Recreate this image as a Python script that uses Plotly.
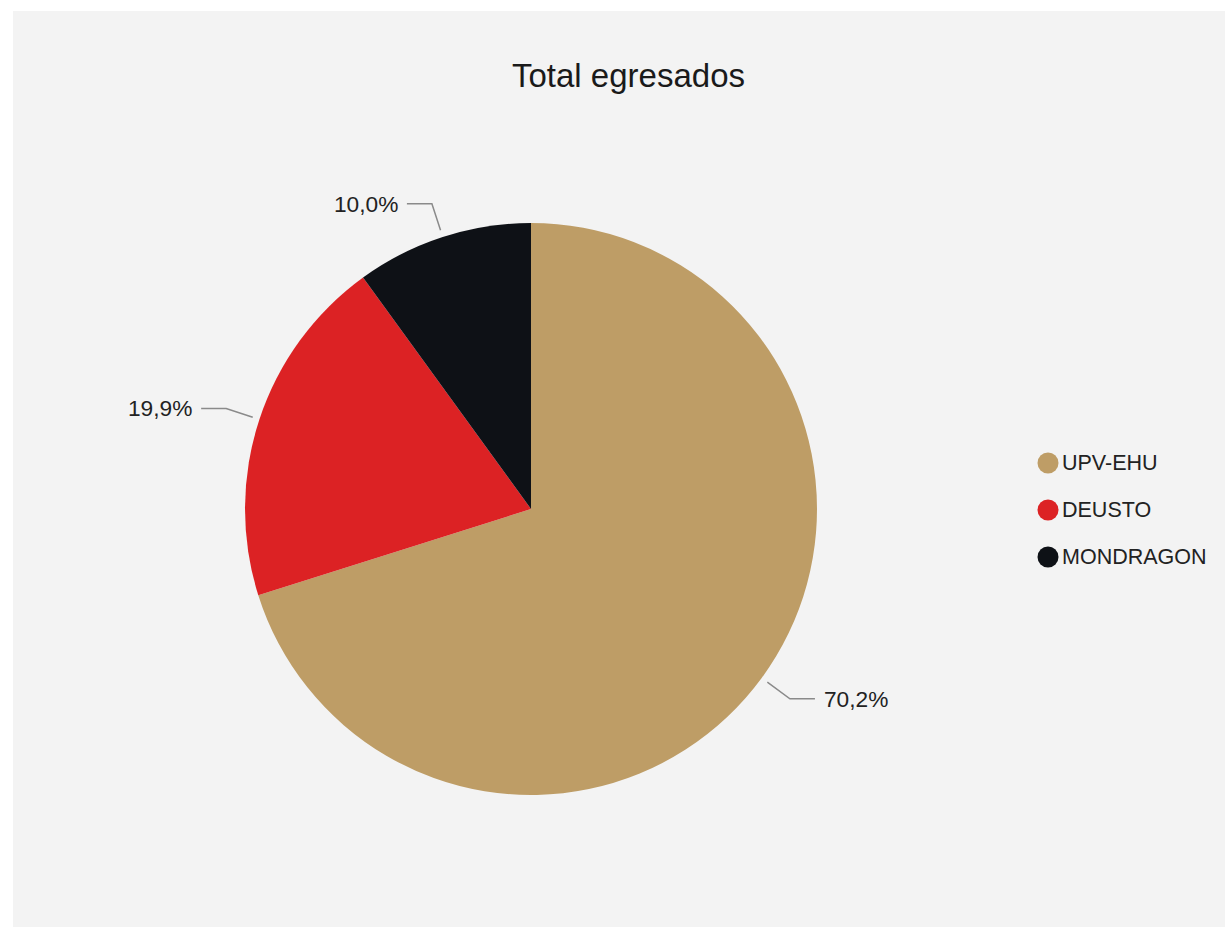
import math
import plotly.graph_objects as go

# ---- data ----
categories = ["UPV-EHU", "DEUSTO", "MONDRAGON"]
values = [70.2, 19.9, 10.0]
colors = ["#BE9D66", "#DC2224", "#0E1116"]
title_text = "Total egresados"

# ---- layout constants (pixels) ----
W, H = 1225, 927
CX, CY, R = 531, 509, 286
FONT = "Liberation Sans, Arial, sans-serif"
TEXT_COLOR = "#222222"
LINE_COLOR = "#8a8a8a"

def px(x):
    return x / W

def py(y):
    return 1 - y / H

fig = go.Figure()

fig.add_trace(go.Pie(
    labels=categories,
    values=values,
    sort=False,
    direction="clockwise",
    rotation=0,
    marker=dict(colors=colors, line=dict(width=0)),
    textinfo="none",
    hoverinfo="label+percent",
    showlegend=False,
    domain=dict(x=[px(CX - R), px(CX + R)], y=[py(CY + R), py(CY - R)]),
))

shapes = []
annotations = []

# background panel
shapes.append(dict(type="rect", xref="paper", yref="paper", layer="below",
                   x0=px(13), x1=1, y0=0, y1=py(11),
                   fillcolor="#F3F3F3", line=dict(width=0)))

# outside labels with leader lines, positioned from the data
total = sum(values)
cum = 0.0
for cat, v in zip(categories, values):
    mid = (cum + v / 2) / total * 2 * math.pi
    cum += v
    dx, dy = math.sin(mid), -math.cos(mid)
    x0, y0 = CX + (R + 7) * dx, CY + (R + 7) * dy
    x1, y1 = CX + (R + 35) * dx, CY + (R + 35) * dy
    side = 1 if dx >= 0 else -1
    x2 = x1 + side * 25
    shapes.append(dict(type="path", xref="paper", yref="paper",
                       path=f"M {px(x0)},{py(y0)} L {px(x1)},{py(y1)} L {px(x2)},{py(y1)}",
                       line=dict(color=LINE_COLOR, width=1.5)))
    label = f"{v:.1f}%".replace(".", ",")
    annotations.append(dict(xref="paper", yref="paper",
                            x=px(x2 + side * 8), y=py(y1),
                            xanchor="left" if side > 0 else "right", yanchor="middle",
                            text=label, showarrow=False, borderpad=0,
                            font=dict(family=FONT, size=22.7, color=TEXT_COLOR)))

# legend with circle markers
LX, LY0, LSTEP = 1048, 463, 47
for i, (cat, col) in enumerate(zip(categories, colors)):
    ly = LY0 + i * LSTEP
    shapes.append(dict(type="circle", xref="paper", yref="paper",
                       x0=px(LX - 10.5), x1=px(LX + 10.5),
                       y0=py(ly + 10.5), y1=py(ly - 10.5),
                       fillcolor=col, line=dict(width=0)))
    annotations.append(dict(xref="paper", yref="paper",
                            x=px(LX + 13), y=py(ly),
                            xanchor="left", yanchor="middle",
                            text=cat, showarrow=False, borderpad=0,
                            font=dict(family=FONT, size=21.5, color=TEXT_COLOR)))

# title
annotations.append(dict(xref="paper", yref="paper", x=px(628), y=py(75),
                        xanchor="center", yanchor="middle", text=title_text,
                        showarrow=False, borderpad=0,
                        font=dict(family=FONT, size=33, color="#1A1A1A")))

fig.update_layout(
    width=W, height=H,
    margin=dict(l=0, r=0, t=0, b=0),
    paper_bgcolor="white",
    plot_bgcolor="rgba(0,0,0,0)",
    shapes=shapes,
    annotations=annotations,
    showlegend=False,
)

fig.write_html("out.html",
               config={"displayModeBar": False},
               post_script="document.body.style.margin='0';document.body.style.overflow='hidden';")
